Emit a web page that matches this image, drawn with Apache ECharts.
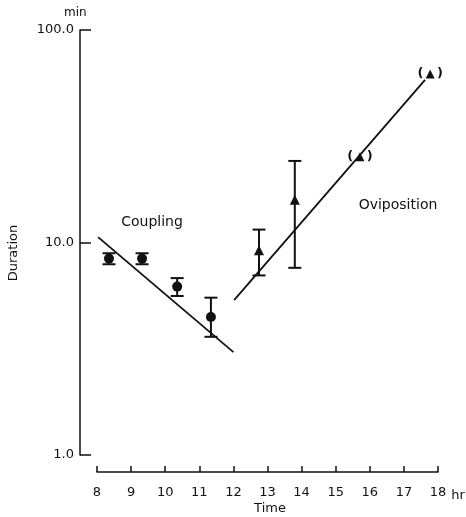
<!DOCTYPE html>
<html><head><meta charset="utf-8">
<script src="https://cdn.jsdelivr.net/npm/echarts@6/dist/echarts.min.js"></script>
<style>html,body{margin:0;padding:0;background:#fff}#c{width:466px;height:517px}</style>
</head><body><div id="c"></div>
<script>
// Copulating (Coupling) data, duration in min vs time in hr
const copX = [8.35, 9.32, 10.35, 11.34];
const copY = [8.4, 8.4, 6.2, 4.46];
const copLow = [7.9, 7.9, 5.6, 3.6];
const copHigh = [8.9, 8.9, 6.8, 5.5];
// Oviposition data
const oviX = [12.75, 13.8];
const oviY = [9.2, 15.9];
const oviLow = [7.0, 7.6];
const oviHigh = [11.5, 24.2];
// Estimated oviposition points (in parentheses)
const oviEstX = [15.71, 17.77];
const oviEstY = [25.3, 62.1];
// Regression lines
const copLineX = [8.03, 12.0];
const copLineY = [10.6, 3.05];
const oviLineX = [12.02, 17.62];
const oviLineY = [5.36, 58.2];
// Axis ticks
const xTicks = [8, 9, 10, 11, 12, 13, 14, 15, 16, 17, 18];
const yTicks = [1, 10, 100];

const FONT = 'DejaVu Sans';
const INK = '#111';

function zip(a, b) { return a.map((v, i) => [v, b[i]]); }
function errData(x, lo, hi) { return x.map((v, i) => [v, lo[i], hi[i]]); }

function errRender(params, api) {
  const x = api.value(0);
  const top = api.coord([x, api.value(2)]);
  const bot = api.coord([x, api.value(1)]);
  const w = 6.5;
  return {
    type: 'group',
    children: [
      {type: 'line', shape: {x1: top[0], y1: top[1], x2: bot[0], y2: bot[1]}, style: {stroke: INK, lineWidth: 2}},
      {type: 'line', shape: {x1: top[0] - w, y1: top[1], x2: top[0] + w, y2: top[1]}, style: {stroke: INK, lineWidth: 2}},
      {type: 'line', shape: {x1: bot[0] - w, y1: bot[1], x2: bot[0] + w, y2: bot[1]}, style: {stroke: INK, lineWidth: 2}}
    ]
  };
}

const chart = echarts.init(document.getElementById('c'), null, {renderer: 'canvas'});
chart.setOption({
  animation: false,
  backgroundColor: '#fff',
  textStyle: {fontFamily: FONT, color: INK},
  grid: [
    {left: 80, right: 28, top: 30, bottom: 62},
    {left: 97, right: 28, top: 30, bottom: 45}
  ],
  xAxis: [
    {type: 'value', gridIndex: 0, min: 7.5, max: 18, show: false},
    {type: 'value', gridIndex: 1, min: 8, max: 18, interval: 1,
     axisLine: {show: true, onZero: false, lineStyle: {color: INK, width: 1.5}},
     axisTick: {show: true, inside: true, length: 6, lineStyle: {color: INK, width: 1.5}},
     axisLabel: {show: true, margin: 14, fontSize: 13, color: INK, fontFamily: FONT,
       formatter: v => xTicks.includes(v) ? String(v) : ''},
     splitLine: {show: false}}
  ],
  yAxis: [
    {type: 'log', gridIndex: 0, logBase: 10, min: yTicks[0], max: yTicks[2],
     axisLine: {show: true, lineStyle: {color: INK, width: 1.5}},
     axisTick: {show: true, inside: true, length: 11, lineStyle: {color: INK, width: 1.5}},
     minorTick: {show: false},
     axisLabel: {show: true, margin: 6, fontSize: 13, color: INK, fontFamily: FONT,
       formatter: v => Number(v).toFixed(1)},
     splitLine: {show: false}},
    {type: 'value', gridIndex: 1, show: false}
  ],
  series: [
    {type: 'line', xAxisIndex: 0, yAxisIndex: 0, data: zip(copLineX, copLineY), symbol: 'none',
     lineStyle: {color: INK, width: 1.8}},
    {type: 'line', xAxisIndex: 0, yAxisIndex: 0, data: zip(oviLineX, oviLineY), symbol: 'none',
     lineStyle: {color: INK, width: 1.8}},
    {type: 'custom', xAxisIndex: 0, yAxisIndex: 0, renderItem: errRender, data: errData(copX, copLow, copHigh), z: 3},
    {type: 'custom', xAxisIndex: 0, yAxisIndex: 0, renderItem: errRender, data: errData(oviX, oviLow, oviHigh), z: 3},
    {type: 'scatter', xAxisIndex: 0, yAxisIndex: 0, data: zip(copX, copY), symbol: 'circle', symbolSize: 10,
     itemStyle: {color: INK, opacity: 1}, z: 4},
    {type: 'scatter', xAxisIndex: 0, yAxisIndex: 0, data: zip(oviX, oviY), symbol: 'triangle', symbolSize: 10,
     itemStyle: {color: INK, opacity: 1}, z: 4},
    {type: 'scatter', xAxisIndex: 0, yAxisIndex: 0, data: zip(oviEstX, oviEstY), symbol: 'triangle', symbolSize: 9,
     itemStyle: {color: INK, opacity: 1}, z: 4,
     label: {show: true, position: 'inside', formatter: '(\u00a0\u00a0\u00a0)', fontSize: 13, fontWeight: 'bold',
       color: INK, fontFamily: FONT}}
  ],
  graphic: [
    {type: 'text', left: 64, top: 7, style: {text: 'min', font: '12px "DejaVu Sans"', fill: INK}},
    {type: 'text', x: 14, y: 253, rotation: Math.PI / 2,
     style: {text: 'Duration', font: '13px "DejaVu Sans"', fill: INK, textAlign: 'center', textVerticalAlign: 'middle'}},
    {type: 'text', x: 270, y: 509, style: {text: 'Time', font: '13px "DejaVu Sans"', fill: INK, textAlign: 'center', textVerticalAlign: 'middle'}},
    {type: 'text', x: 458, y: 496, style: {text: 'hr', font: '13px "DejaVu Sans"', fill: INK, textAlign: 'center', textVerticalAlign: 'middle'}},
    {type: 'text', x: 152, y: 222, style: {text: 'Coupling', font: '14px "DejaVu Sans"', fill: INK, textAlign: 'center', textVerticalAlign: 'middle'}},
    {type: 'text', x: 398, y: 205, style: {text: 'Oviposition', font: '14px "DejaVu Sans"', fill: INK, textAlign: 'center', textVerticalAlign: 'middle'}}
  ]
});
</script></body></html>
